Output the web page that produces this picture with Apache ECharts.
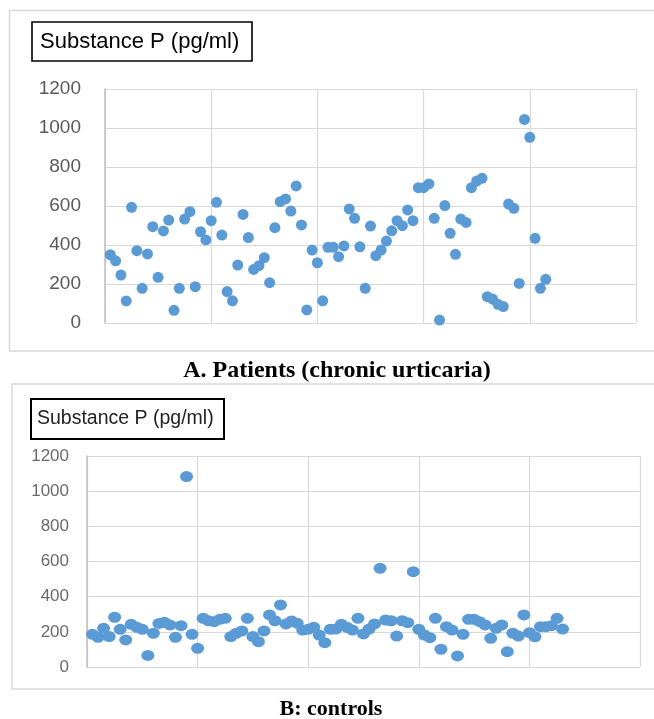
<!DOCTYPE html>
<html>
<head>
<meta charset="utf-8">
<script src="https://cdn.jsdelivr.net/npm/echarts@6/dist/echarts.min.js"></script>
<style>
html,body{margin:0;padding:0;background:#fff;}
#chart{width:654px;height:719px;}
</style>
</head>
<body>
<div id="chart"></div>
<script>
// Panel A: patients (chronic urticaria), substance P (pg/ml), case order 1..83
var patientsSP = [350,319,246,113,593,371,178,354,494,234,472,528,65,178,533,571,186,468,426,525,
  619,451,161,114,297,557,438,275,294,335,207,489,622,636,574,703,503,67,374,309,
  114,388,388,340,395,585,537,391,178,497,345,374,420,473,525,499,580,525,694,694,
  713,537,15,602,460,352,533,516,694,728,742,135,123,96,84,610,588,203,1044,952,
  434,178,224];
// Panel B: controls, substance P (pg/ml), case order 1..86
var controlsSP = [186,169,220,173,283,214,154,243,226,214,66,192,248,254,239,169,235,1083,186,106,
  277,263,258,271,277,173,192,205,277,173,144,205,296,263,353,245,262,249,210,214,
  226,182,138,214,216,243,226,210,277,188,216,245,561,267,263,176,263,252,542,214,
  182,167,277,101,229,210,63,186,271,271,258,239,163,220,239,87,192,176,296,195,
  172,229,229,235,277,216];
var yTicks = [0,200,400,600,800,1000,1200];
var titleA = 'Substance P (pg/ml)';
var titleB = 'Substance P (pg/ml)';
var captionA = 'A. Patients (chronic urticaria)';
var captionB = 'B: controls';

function toPoints(arr){ return arr.map(function(v,i){ return [i+1, v]; }); }

var chart = echarts.init(document.getElementById('chart'), null, {renderer:'canvas'});
var dotColor = '#5B9BD5';
var gridColor = '#d9d9d9';

function xAx(gi){
  return {type:'value', gridIndex:gi, min:0, max:100, interval:20,
    axisLabel:{show:false}, axisTick:{show:false}, axisLine:{show:false},
    splitLine:{show:true, lineStyle:{color:gridColor, width:1.2}}};
}
function yAx(gi, fs, col, margin){
  return {type:'value', gridIndex:gi, min:yTicks[0], max:yTicks[yTicks.length-1], interval:yTicks[1]-yTicks[0],
    axisLabel:{fontFamily:'Liberation Sans', fontSize:fs, color:col, margin:margin,
      formatter:function(v){ return String(v); }},
    axisTick:{show:false},
    axisLine:{show:true, lineStyle:{color:'#bfbfbf', width:1.5}},
    splitLine:{show:true, lineStyle:{color:gridColor, width:1.2}}};
}

var option = {
  backgroundColor:'#ffffff',
  animation:false,
  grid:[
    {left:105, top:89, width:531, height:234},
    {left:87, top:456, width:553, height:211}
  ],
  xAxis:[xAx(0), xAx(1)],
  yAxis:[yAx(0, 19, '#595959', 24), yAx(1, 17, '#6a6a6a', 18)],
  series:[
    {type:'scatter', xAxisIndex:0, yAxisIndex:0, data:toPoints(patientsSP),
      symbol:'circle', symbolSize:11, itemStyle:{color:dotColor, opacity:1}},
    {type:'scatter', xAxisIndex:1, yAxisIndex:1, data:toPoints(controlsSP),
      symbol:'path://M0,10 A10,10 0 1,1 20,10 A10,10 0 1,1 0,10 Z', symbolSize:[13,11],
      itemStyle:{color:dotColor, opacity:1}}
  ],
  graphic:[
    {type:'rect', shape:{x:9.5, y:10.5, width:700, height:340.5},
      style:{fill:'none', stroke:gridColor, lineWidth:1.5}, z:-1},
    {type:'rect', shape:{x:12, y:384, width:700, height:305},
      style:{fill:'none', stroke:gridColor, lineWidth:1.5}, z:-1},
    {type:'rect', shape:{x:32, y:22, width:220, height:39},
      style:{fill:'#fff', stroke:'#000', lineWidth:1.6}},
    {type:'text', x:40, y:42, style:{text:titleA, font:'22px "Liberation Sans"', fill:'#000',
      textVerticalAlign:'middle', verticalAlign:'middle'}},
    {type:'rect', shape:{x:31, y:399, width:193, height:40},
      style:{fill:'#fff', stroke:'#000', lineWidth:2}},
    {type:'text', x:37, y:419, style:{text:titleB, font:'19.5px "Liberation Sans"', fill:'#222',
      textVerticalAlign:'middle', verticalAlign:'middle'}},
    {type:'text', x:337, y:371, style:{text:captionA, font:'bold 24px "Liberation Serif"', fill:'#000',
      textAlign:'center', align:'center', textVerticalAlign:'middle', verticalAlign:'middle'}},
    {type:'text', x:331, y:709, style:{text:captionB, font:'bold 22px "Liberation Serif"', fill:'#000',
      textAlign:'center', align:'center', textVerticalAlign:'middle', verticalAlign:'middle'}}
  ]
};
chart.setOption(option);
</script>
</body>
</html>
